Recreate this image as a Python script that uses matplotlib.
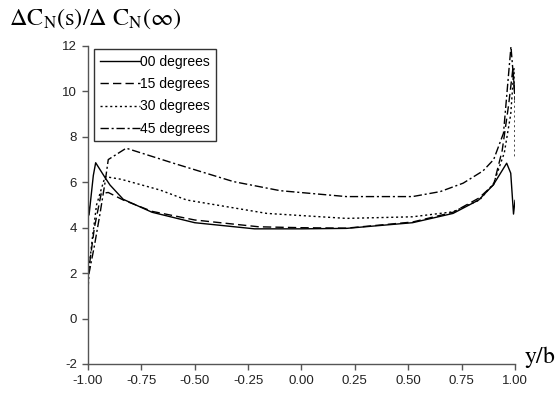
import numpy as np
import matplotlib
matplotlib.use('Agg')
import matplotlib.pyplot as plt

plt.rcParams['font.family'] = ['Liberation Sans', 'DejaVu Sans']
plt.rcParams['mathtext.fontset'] = 'stix'
plt.rcParams['axes.unicode_minus'] = False

# 数据
x_00 = [-1.0, -0.995, -0.975, -0.964, -0.923, -0.897, -0.835, -0.70, -0.50, -0.22, 0.0, 0.21, 0.52, 0.71, 0.83, 0.898, 0.961, 0.98, 0.993, 1.0]
y_00 = [5.2, 4.56, 6.3, 6.86, 6.25, 5.88, 5.25, 4.68, 4.22, 3.95, 3.95, 3.97, 4.22, 4.63, 5.22, 5.88, 6.84, 6.4, 4.6, 5.2]

x_15 = [-1.0, -0.99, -0.97, -0.938, -0.905, -0.835, -0.70, -0.50, -0.20, 0.0, 0.21, 0.52, 0.71, 0.83, 0.90, 0.94, 0.97, 0.99, 1.0]
y_15 = [1.9, 2.6, 4.0, 5.51, 5.55, 5.22, 4.72, 4.34, 4.04, 4.0, 3.98, 4.25, 4.68, 5.3, 5.9, 7.4, 9.4, 11.0, 9.6]

x_30 = [-1.0, -0.98, -0.96, -0.92, -0.844, -0.663, -0.538, -0.163, 0.21, 0.52, 0.71, 0.834, 0.90, 0.95, 0.98, 0.995, 1.0, 1.0]
y_30 = [1.8, 3.5, 5.0, 6.25, 6.13, 5.66, 5.22, 4.63, 4.41, 4.48, 4.70, 5.22, 5.95, 7.3, 9.0, 11.0, 10.9, 7.1]

x_45 = [-1.0, -0.995, -0.97, -0.944, -0.92, -0.905, -0.821, -0.60, -0.319, -0.10, 0.21, 0.52, 0.65, 0.757, 0.85, 0.90, 0.946, 0.981, 1.0]
y_45 = [1.25, 2.0, 3.2, 4.6, 6.0, 7.0, 7.5, 6.84, 6.03, 5.63, 5.37, 5.37, 5.59, 5.96, 6.5, 7.0, 8.16, 11.97, 9.8]

labels = ['00 degrees', '15 degrees', '30 degrees', '45 degrees']
x_ticks = [-1.00, -0.75, -0.50, -0.25, 0.00, 0.25, 0.50, 0.75, 1.00]
y_ticks = [-2, 0, 2, 4, 6, 8, 10, 12]

fig = plt.figure(figsize=(5.59, 3.93), dpi=100)
ax = fig.add_axes([0.1574, 0.0738, 0.7639, 0.8092])

ax.plot(x_00, y_00, color='black', lw=1.0, ls='-', label=labels[0])
ax.plot(x_15, y_15, color='black', lw=1.0, ls=(0, (6, 3)), label=labels[1])
ax.plot(x_30, y_30, color='black', lw=1.0, ls=(0, (1.5, 2)), label=labels[2])
ax.plot(x_45, y_45, color='black', lw=1.0, ls=(0, (6, 2, 1.5, 2)), label=labels[3])

ax.set_xlim(-1.0, 1.0)
ax.set_ylim(-2, 12)
ax.set_xticks(x_ticks)
ax.set_xticklabels([f'{v:.2f}' for v in x_ticks])
ax.set_yticks(y_ticks)

for s in ['top', 'right']:
    ax.spines[s].set_visible(False)
for s in ['left', 'bottom']:
    ax.spines[s].set_color('#555555')
    ax.spines[s].set_linewidth(1.0)
ax.tick_params(direction='out', length=4, width=1, color='#555555', labelsize=9.5, labelcolor='#222222', pad=4)

leg = ax.legend(loc='upper left', bbox_to_anchor=(0.014, 0.99), fontsize=10, frameon=True,
                fancybox=False, handlelength=2.9, handletextpad=0.05, labelspacing=0.6,
                borderpad=0.4, borderaxespad=0)
leg.get_frame().set_edgecolor('black')
leg.get_frame().set_linewidth(1.0)

fig.text(0.016, 0.936, r'$\mathrm{\Delta C_N(s)/\Delta\ C_N(\infty)}$', fontsize=17.5, va='baseline', ha='left')
fig.text(0.938, 0.076, r'$\mathrm{y/b}$', fontsize=17, va='baseline', ha='left')

plt.savefig('out.png', dpi=100)
